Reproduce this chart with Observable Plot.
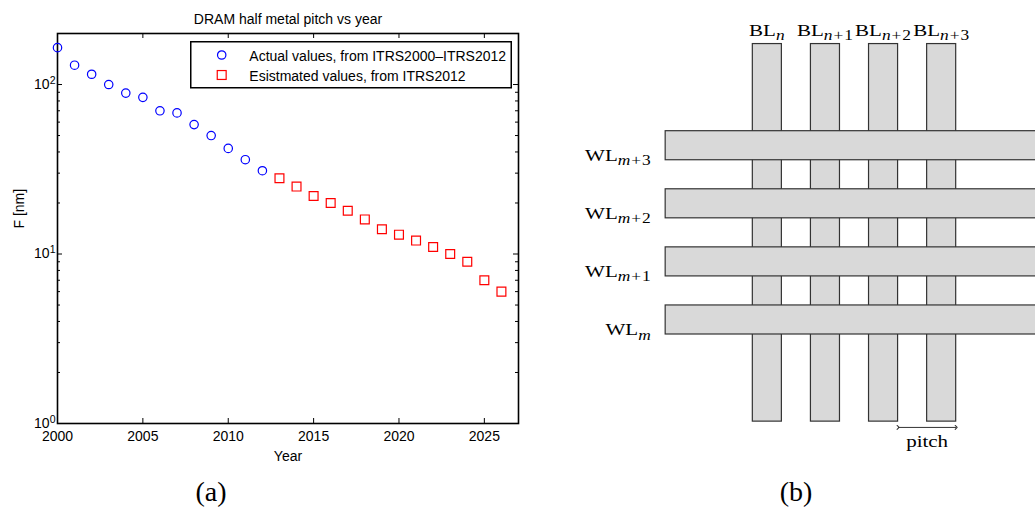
<!DOCTYPE html>
<html>
<head>
<meta charset="utf-8">
<script src="https://cdn.jsdelivr.net/npm/d3@7"></script>
<script src="https://cdn.jsdelivr.net/npm/@observablehq/plot@0.6"></script>
<style>
  html, body { margin: 0; padding: 0; background: #fff; overflow: hidden; }
  #fig { position: relative; width: 1035px; height: 510px; overflow: hidden; background: #fff; }
  .panel { position: absolute; top: 0; }
  .caption { position: absolute; width: 100px; text-align: center; font-family: "Liberation Serif", serif; font-size: 28px; line-height: 28px; color: #000; }
  #legend { position: absolute; left: 190px; top: 41px; }
</style>
</head>
<body>
<div id="fig">
  <div class="panel" id="panelA" style="left:0"></div>
  <div class="panel" id="panelB" style="left:560px"></div>
  <div class="caption" style="left:161px; top:478px">(a)</div>
  <div class="caption" style="left:746px; top:478px">(b)</div>
</div>
<script>
// ---- (a) DRAM half metal pitch per year, in nm ----
const actualYears = [2000, 2001, 2002, 2003, 2004, 2005, 2006, 2007, 2008, 2009, 2010, 2011, 2012];
const actualPitch = [165, 130, 115, 100, 89, 84, 70, 68, 58, 50, 42, 36, 31];
const estimatedYears = [2013, 2014, 2015, 2016, 2017, 2018, 2019, 2020, 2021, 2022, 2023, 2024, 2025, 2026];
const estimatedPitch = [28, 25, 22, 20, 18, 16, 14, 13, 12, 11, 10, 9, 7, 6];
const yearTicks = [2000, 2005, 2010, 2015, 2020, 2025];
const decadeTicks = [1, 10, 100];
const minorSteps = [2, 3, 4, 5, 6, 7, 8, 9];
const legendLabels = ["Actual values, from ITRS2000\u2013ITRS2012", "Esistmated values, from ITRS2012"];
const chartTitle = "DRAM half metal pitch vs year";

// ---- (b) crossbar layout: one unit = line width, pitch = 2 units ----
const bitlines = ["n", "n+1", "n+2", "n+3"];
const wordlines = ["m", "m+1", "m+2", "m+3"];
const bitlineSpan = [-3, 10];
const wordlineSpan = [-3, 10];
const pitchMarker = [{from: 5, to: 7, level: -3.2, label: "pitch"}];

const actual = actualYears.map((year, i) => ({year, F: actualPitch[i]}));
const estimated = estimatedYears.map((year, i) => ({year, F: estimatedPitch[i]}));
const minorTicks = decadeTicks.slice(0, 2).flatMap(d => minorSteps.map(k => k * d));

const WA = 560, HA = 510;
const mA = {top: 33, right: 42, bottom: 87, left: 57};
const frameW = WA - mA.left - mA.right;
const frameH = HA - mA.top - mA.bottom;
const tickMajor = 5, tickMinor = 3;

const plotA = Plot.plot({
  width: WA, height: HA,
  marginTop: mA.top, marginRight: mA.right, marginBottom: mA.bottom, marginLeft: mA.left,
  style: {fontFamily: '"Liberation Sans", Arial, sans-serif', fontSize: "14px", background: "transparent", color: "#000", overflow: "visible"},
  x: {domain: [2000, 2027], axis: null},
  y: {type: "log", domain: [1, 200], axis: null},
  marks: [
    // inward ticks on all four sides
    Plot.ruleX(yearTicks, {x: d => d, insetTop: frameH - tickMajor, stroke: "#000"}),
    Plot.ruleX(yearTicks, {x: d => d, insetBottom: frameH - tickMajor, stroke: "#000"}),
    Plot.ruleY(decadeTicks, {y: d => d, insetRight: frameW - tickMajor, stroke: "#000"}),
    Plot.ruleY(decadeTicks, {y: d => d, insetLeft: frameW - tickMajor, stroke: "#000"}),
    Plot.ruleY(minorTicks, {y: d => d, insetRight: frameW - tickMinor, stroke: "#000"}),
    Plot.ruleY(minorTicks, {y: d => d, insetLeft: frameW - tickMinor, stroke: "#000"}),
    Plot.frame({stroke: "#000", strokeWidth: 1.6}),
    Plot.dot(actual, {x: "year", y: "F", symbol: "circle", r: 4.2, stroke: "#0000ff", strokeWidth: 1.2, fill: "none"}),
    Plot.dot(estimated, {x: "year", y: "F", symbol: "square", r: 5, stroke: "#ff0000", strokeWidth: 1.2, fill: "none"}),
    Plot.text(yearTicks, {x: d => d, text: d => String(d), frameAnchor: "bottom", lineAnchor: "top", dy: 8}),
    Plot.text(decadeTicks, {y: d => d, text: d => "10^" + Math.round(Math.log10(d)), frameAnchor: "left", textAnchor: "end", dx: -2}),
    Plot.text([chartTitle], {text: d => d, frameAnchor: "top", lineAnchor: "bottom", dy: -10}),
    Plot.text(["Year"], {text: d => d, frameAnchor: "bottom", lineAnchor: "bottom", dy: 37}),
    Plot.text(["F [nm]"], {text: d => d, frameAnchor: "left", rotate: -90, lineAnchor: "bottom", dx: -34})
  ]
});

// superscript exponents on the log axis labels
d3.select(plotA).selectAll("text").filter(function () { return this.textContent.includes("^"); }).each(function () {
  const [base, exp] = this.textContent.split("^");
  const t = d3.select(this).text(null);
  t.append("tspan").text(base);
  t.append("tspan").attr("dy", "-0.5em").attr("font-size", "10.5px").text(exp);
});
document.getElementById("panelA").appendChild(plotA);

// legend box
const legend = d3.select("#fig").append("svg").attr("id", "legend").attr("width", 324).attr("height", 49)
  .style("font-family", '"Liberation Sans", Arial, sans-serif').style("font-size", "14px");
legend.append("rect").attr("x", 0.75).attr("y", 0.75).attr("width", 320.5).attr("height", 46)
  .attr("fill", "#fff").attr("stroke", "#000").attr("stroke-width", 1.5);
legend.append("circle").attr("cx", 31.7).attr("cy", 14).attr("r", 4.2)
  .attr("fill", "none").attr("stroke", "#0000ff").attr("stroke-width", 1.2);
legend.append("rect").attr("x", 31.7 - 4.45).attr("y", 34 - 4.45).attr("width", 8.9).attr("height", 8.9)
  .attr("fill", "none").attr("stroke", "#ff0000").attr("stroke-width", 1.2);
legend.selectAll("text.entry").data(legendLabels).join("text").attr("class", "entry")
  .attr("x", 59.3).attr("y", (d, i) => 20 + 20 * i).attr("fill", "#000").text(d => d);

// ---- (b) ----
const WB = 475, HB = 510;
const lineStyle = {fill: "#d9d9d9", stroke: "#333", strokeWidth: 1.2};
const plotB = Plot.plot({
  width: WB, height: HB, margin: 0,
  style: {fontFamily: '"Liberation Serif", serif', fontSize: "17.5px", background: "transparent", color: "#000", overflow: "visible"},
  x: {domain: [-6.62, 9.73], axis: null},
  y: {domain: [-6.06, 11.5], axis: null},
  marks: [
    Plot.rect(bitlines, {x1: (d, i) => 2 * i, x2: (d, i) => 2 * i + 1, y1: bitlineSpan[0], y2: bitlineSpan[1], ...lineStyle}),
    Plot.rect(wordlines, {x1: wordlineSpan[0], x2: wordlineSpan[1], y1: (d, i) => 2 * i, y2: (d, i) => 2 * i + 1, ...lineStyle}),
    Plot.link(pitchMarker, {x1: "from", x2: "to", y1: "level", y2: "level", markerStart: "arrow", markerEnd: "arrow", stroke: "#333", strokeWidth: 1}),
    Plot.text(bitlines, {x: (d, i) => 2 * i + 0.5, y: bitlineSpan[1], text: d => "BL_" + d, lineAnchor: "bottom", dy: -8}),
    Plot.text(wordlines, {x: wordlineSpan[0], y: (d, i) => 2 * i, text: d => "WL_" + d, textAnchor: "end", lineAnchor: "bottom", dx: -14, dy: 1}),
    Plot.text(pitchMarker, {x: d => (d.from + d.to) / 2, y: "level", text: "label", lineAnchor: "bottom", dy: 20})
  ]
});

// subscripts (italic index letter) and the wide serif lettering
d3.select(plotB).selectAll("text").each(function () {
  const parts = this.textContent.split("_");
  if (parts.length === 2) {
    const [base, sub] = parts;
    const t = d3.select(this).text(null);
    t.append("tspan").text(base);
    t.append("tspan").attr("dy", 4).attr("font-size", "14.5px").attr("letter-spacing", "0.8px").attr("font-style", "italic").text(sub[0]);
    if (sub.length > 1) t.append("tspan").attr("font-size", "14.5px").attr("letter-spacing", "0.8px").text(sub.slice(1));
  }
  const tr = this.getAttribute("transform") || "";
  this.setAttribute("transform", tr + " scale(1.2,1)");
});
document.getElementById("panelB").appendChild(plotB);
</script>
</body>
</html>
